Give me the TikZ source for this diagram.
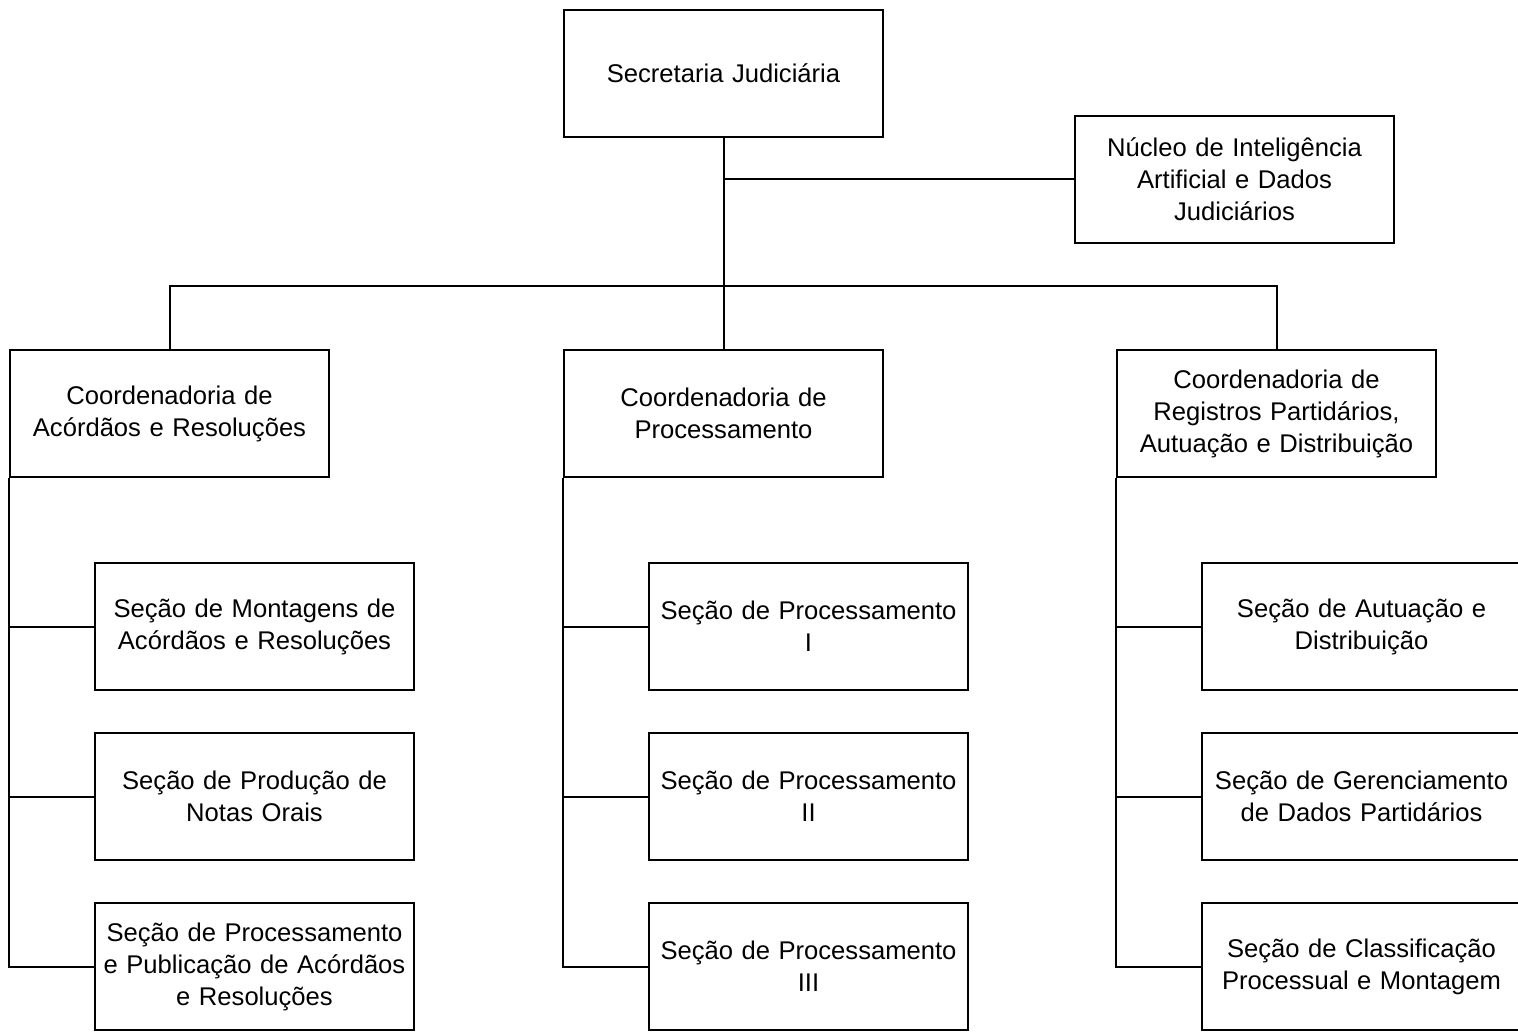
\documentclass[tikz,border=0pt]{standalone}
\usepackage{fontspec}
\setmainfont{Liberation Sans}
\begin{document}
\begin{tikzpicture}[x=0.5pt,y=-0.5pt,
  box/.style={draw=black,line width=1pt,fill=white,minimum width=159.5pt,minimum height=63.5pt,
    inner sep=2pt,align=center,font=\fontsize{12.8pt}{16pt}\selectfont,text width=155pt},
  conn/.style={draw=black,line width=1pt}]
\useasboundingbox (0,0) rectangle (1518,1032);
\fill[white] (0,0) rectangle (1518,1032);
\node[box] (sec) at (723.5,73.5) {Secretaria Judiciária};
\node[box] (nuc) at (1234.5,179.5) {Núcleo de Inteligência\\Artificial e Dados\\Judiciários};
\node[box] (c1) at (169.5,413.5) {Coordenadoria de\\Acórdãos e Resoluções};
\node[box] (c2) at (723.5,413.5) {Coordenadoria de\\Processamento};
\node[box] (c3) at (1276.5,413.5) {Coordenadoria de\\Registros Partidários,\\Autuação e Distribuição};
\node[box] (s11) at (254.5,626.5) {Seção de Montagens de\\Acórdãos e Resoluções};
\node[box] (s12) at (254.5,796.5) {Seção de Produção de\\Notas Orais};
\node[box] (s13) at (254.5,966.5) {Seção de Processamento\\e Publicação de Acórdãos\\e Resoluções};
\node[box] (s21) at (808.5,626.5) {Seção de Processamento\\I};
\node[box] (s22) at (808.5,796.5) {Seção de Processamento\\II};
\node[box] (s23) at (808.5,966.5) {Seção de Processamento\\III};
\node[box] (s31) at (1361.5,626.5) {Seção de Autuação e\\Distribuição};
\node[box] (s32) at (1361.5,796.5) {Seção de Gerenciamento\\de Dados Partidários};
\node[box] (s33) at (1361.5,966.5) {Seção de Classificação\\Processual e Montagem};
\coordinate (j) at (723.5,286);
\draw[conn] (sec.south) -- (c2.north);
\draw[conn] (nuc.west) -- (nuc.west -| sec.south);
\draw[conn] (c1.north) -- (c1.north |- j) -- (c3.north |- j) -- (c3.north);
\foreach \c/\a/\b/\d in {c1/s11/s12/s13,c2/s21/s22/s23,c3/s31/s32/s33}{
  \draw[conn] (\c.south west) -- (\c.south west |- \d.west) -- (\d.west);
  \draw[conn] (\a.west) -- (\a.west -| \c.south west);
  \draw[conn] (\b.west) -- (\b.west -| \c.south west);
}
\end{tikzpicture}
\end{document}
